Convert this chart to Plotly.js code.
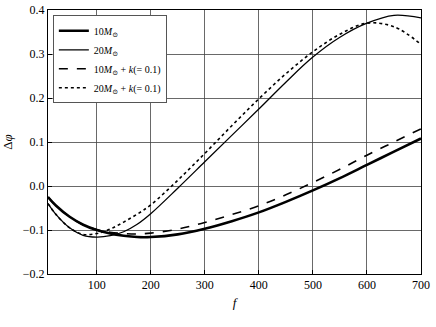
<!DOCTYPE html>
<html>
<head>
<meta charset="utf-8">
<script src="https://cdn.plot.ly/plotly-3.0.1.min.js"></script>
<style>
  html, body { margin: 0; padding: 0; background: white; }
  #chart { width: 436px; height: 327px; }
</style>
</head>
<body>
<div id="chart"></div>
<script>
// Phase difference vs. frequency.
const freq = [10, 25, 50, 75, 100, 125, 150, 175, 200, 250, 300, 350, 400, 450, 500, 550, 600, 650, 700];

const dphi10 = [-0.025, -0.045, -0.07, -0.088, -0.1, -0.108, -0.113, -0.116, -0.116, -0.11, -0.097, -0.08, -0.06, -0.036, -0.01, 0.018, 0.048, 0.078, 0.108];
const dphi20 = [-0.04, -0.065, -0.095, -0.112, -0.116, -0.113, -0.104, -0.087, -0.063, -0.005, 0.055, 0.115, 0.175, 0.236, 0.293, 0.338, 0.370, 0.388, 0.382];
const dphi10k = [-0.025, -0.045, -0.07, -0.088, -0.099, -0.105, -0.108, -0.109, -0.107, -0.098, -0.083, -0.065, -0.045, -0.02, 0.008, 0.038, 0.07, 0.1, 0.13];
const dphi20k = [-0.04, -0.065, -0.095, -0.11, -0.108, -0.098, -0.082, -0.064, -0.043, 0.013, 0.074, 0.137, 0.198, 0.255, 0.305, 0.345, 0.37, 0.362, 0.322];

const names = [
  "10<i>M</i><sub>⊙</sub>",
  "20<i>M</i><sub>⊙</sub>",
  "10<i>M</i><sub>⊙</sub> + <i>k</i>(= 0.1)",
  "20<i>M</i><sub>⊙</sub> + <i>k</i>(= 0.1)",
];

const SERIF = "Liberation Serif, DejaVu Serif, serif";

const traces = [
  { x: freq, y: dphi10, mode: "lines", name: names[0], line: { color: "black", width: 2.6, shape: "spline" } },
  { x: freq, y: dphi20, mode: "lines", name: names[1], line: { color: "black", width: 1.3, shape: "spline" } },
  { x: freq, y: dphi10k, mode: "lines", name: names[2], line: { color: "black", width: 1.6, dash: "dash", shape: "spline" } },
  { x: freq, y: dphi20k, mode: "lines", name: names[3], line: { color: "black", width: 1.6, dash: "dot", shape: "spline" } },
];

const axisCommon = {
  showline: true, mirror: true, linecolor: "black", linewidth: 1,
  showgrid: true, gridcolor: "#444", gridwidth: 0.8,
  zeroline: false, ticks: "inside", ticklen: 4, tickcolor: "black",
  tickfont: { family: SERIF, size: 12, color: "black" },
};

const layout = {
  width: 436, height: 327,
  margin: { l: 48, r: 15, t: 10, b: 53 },
  paper_bgcolor: "white",
  plot_bgcolor: "white",
  font: { family: SERIF, color: "black" },
  showlegend: true,
  legend: {
    x: 0.013, y: 0.98, xanchor: "left", yanchor: "top",
    bgcolor: "white", bordercolor: "#555", borderwidth: 1,
    font: { family: SERIF, size: 10, color: "black" },
    itemwidth: 30, tracegroupgap: 0,
  },
  xaxis: Object.assign({}, axisCommon, {
    range: [10, 700], tickvals: [100, 200, 300, 400, 500, 600, 700],
    title: { text: "<i>f</i>", font: { family: SERIF, size: 13 }, standoff: 6 },
  }),
  yaxis: Object.assign({}, axisCommon, {
    range: [-0.2, 0.4], dtick: 0.1, tickformat: ".1f",
    title: { text: "Δ<i>φ</i>", font: { family: SERIF, size: 13 }, standoff: 8 },
  }),
};

Plotly.newPlot("chart", traces, layout, { displayModeBar: false, staticPlot: true });
</script>
</body>
</html>
